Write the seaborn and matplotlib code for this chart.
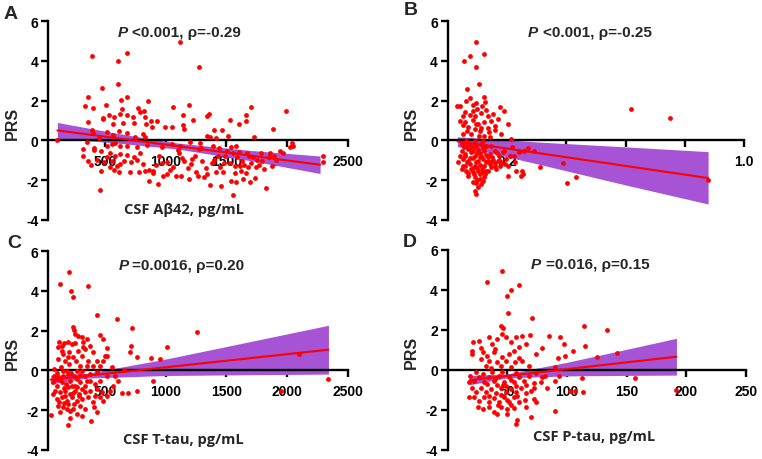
import matplotlib
matplotlib.use("Agg")
import matplotlib.pyplot as plt
import seaborn as sns

sns.set_style("white")
plt.rcParams['font.family'] = ['Liberation Sans', 'DejaVu Sans']
plt.rcParams['font.weight'] = 'bold'
plt.rcParams['axes.unicode_minus'] = False

# ---------------- Panel A: CSF Abeta42 ----------------
abeta_x = [1117, 388, 682, 608, 1271, 476, 608, 360, 677, 850,
           330, 506, 630, 1191, 1062, 1706, 1989, 402, 726, 774,
           820, 479, 531, 575, 638, 622, 682, 790, 831, 1142,
           1356, 1343, 1221, 1660, 1530, 1601, 1664, 358, 484, 567,
           644, 735, 836, 878, 889, 930, 990, 1051, 1139, 1153,
           1393, 1466, 1887, 1728, 809, 831, 1337, 1361, 1417, 1510,
           391, 396, 448, 512, 567, 611, 677, 743, 105, 316,
           382, 462, 468, 457, 429, 492, 512, 539, 580, 594,
           575, 611, 622, 657, 677, 710, 738, 759, 787, 809,
           825, 858, 864, 891, 919, 944, 966, 938, 974, 1007,
           1032, 1059, 1081, 1098, 1111, 1136, 1147, 1180, 1194, 1208,
           1219, 1241, 1252, 1276, 1293, 1301, 1318, 1329, 1343, 1361,
           1378, 1395, 1414, 1430, 1439, 1450, 1455, 1477, 1491, 1505,
           1527, 1541, 1552, 1568, 1574, 1579, 1582, 1590, 1601, 1612,
           1618, 1629, 1637, 1648, 1659, 1667, 1681, 1689, 1695, 1706,
           1719, 1733, 1744, 1755, 1769, 1783, 1796, 1813, 1827, 1557,
           1535, 1849, 1862, 1876, 1893, 1909, 1942, 1970, 2025, 2042,
           2052, 2300, 2300, 314, 358, 407, 347, 407, 512, 553,
           580, 622, 677, 759, 842, 966, 1048, 1117, 1199, 1282,
           1392, 622, 553, 539, 704, 782, 1007, 1125, 1268, 1469,
           897]
abeta_prs = [4.97, 4.27, 4.40, 4.02, 3.71, 2.62, 2.84, 2.17, 2.17, 1.97,
             1.75, 1.78, 2.03, 1.78, 1.70, 1.70, 1.46, 1.63, 1.16, 1.63,
             1.46, 1.13, 1.29, 1.19, 1.58, 1.33, 1.29, 1.41, 1.19, 1.28,
             1.33, 1.21, 1.03, 1.29, 1.01, 0.81, 0.96, 0.91, 1.08, 0.81,
             0.86, 0.86, 0.82, 0.96, 0.69, 0.97, 0.69, 0.66, 0.77, 0.57,
             0.52, 0.52, 0.55, 0.18, 0.30, 0.15, 0.24, 0.15, 0.10, 0.24,
             0.52, 0.35, 0.10, 0.40, 0.29, 0.47, 0.35, 0.18, 0.00, -0.44,
             -1.23, -0.52, -1.56, -2.49, -0.97, -1.08, -0.86, -0.64, -0.77, -1.28,
             -1.48, -1.58, -1.19, -1.06, -0.74, -1.11, -0.86, -0.99, -0.66, -1.18,
             -1.53, -1.50, -2.03, -1.56, -1.24, -0.81, -1.14, -2.20, -1.78, -1.11,
             -1.48, -1.36, -1.78, -0.47, -0.64, -0.91, -1.03, -1.38, -1.95, -1.21,
             -0.94, -0.77, -1.61, -0.45, -0.39, -1.03, -1.87, -1.39, -1.70, -2.24,
             -1.16, -0.99, -1.61, -0.77, -0.40, -1.33, -2.29, -1.16, -0.77, -0.52,
             -1.14, -0.32, -0.66, -1.28, -1.66, -2.08, -0.27, -0.86, -0.61, -1.28,
             -1.53, -1.03, -1.95, -1.24, -1.66, -0.66, -1.36, -0.77, -2.12, -1.16,
             -0.86, -1.90, -1.36, -0.99, -1.23, -0.64, -1.03, -1.45, -2.40, -2.74,
             -2.03, -0.86, -0.64, -1.28, -0.77, -0.99, -0.52, -0.66, -0.32, -0.15,
             -0.27, -0.77, -1.08, -0.81, -1.06, -0.47, -0.10, -0.39, -0.27, -0.18,
             -0.13, -0.27, -0.27, -0.35, -0.24, -0.35, -0.18, -0.27, -0.10, -0.15,
             -0.27, -0.69, -1.06, -1.36, -1.61, -1.61, -1.70, -1.78, -1.78, -1.58,
             -1.65]
abeta_fit_x = [105, 600, 1100, 1700, 2272]
abeta_fit_y = [0.50, 0.105, -0.294, -0.773, -1.23]
abeta_ci_lo = [0.10, -0.14, -0.44, -1.03, -1.67]
abeta_ci_hi = [0.90, 0.35, -0.14, -0.51, -0.79]

# ---------------- Panel B ----------------
b_x = [0.094, 0.054, 0.076, 0.124, 0.094, 0.106, 0.064, 0.076, 0.123, 0.032,
       0.043, 0.063, 0.086, 0.097, 0.116, 0.127, 0.176, 0.191, 0.154, 0.169,
       0.136, 0.113, 0.091, 0.074, 0.052, 0.041, 0.060, 0.086, 0.102, 0.124,
       0.147, 0.158, 0.202, 0.069, 0.091, 0.113, 0.136, 0.078, 0.124, 0.144,
       0.213, 0.104, 0.047, 0.063, 0.074, 0.086, 0.097, 0.113, 0.130, 0.147,
       0.047, 0.058, 0.080, 0.091, 0.108, 0.124, 0.141, 0.158, 0.174, 0.186,
       0.052, 0.069, 0.086, 0.102, 0.119, 0.136, 0.152, 0.169, 0.197, 0.058,
       0.074, 0.091, 0.108, 0.124, 0.141, 0.158, 0.202, 0.063, 0.086, 0.102,
       0.119, 0.136, 0.230, 0.247, 0.202, 0.091, 0.108, 0.124, 0.097, 0.113,
       0.102, 0.091, 0.094, 0.036, 0.041, 0.052, 0.080, 0.102, 0.113, 0.136,
       0.147, 0.163, 0.180, 0.080, 0.069, 0.047, 0.063, 0.091, 0.119, 0.217,
       0.222, 0.228, 0.239, 0.256, 0.272, 0.292, 0.250, 0.253, 0.311, 0.389,
       0.402, 0.431, 0.619, 0.748, 0.878, 0.178, 0.189, 0.211, 0.194, 0.055,
       0.070, 0.085, 0.100, 0.118, 0.130, 0.150, 0.165, 0.060, 0.075, 0.095,
       0.110, 0.128, 0.145, 0.160, 0.175, 0.065, 0.085, 0.100, 0.115, 0.130,
       0.070, 0.090, 0.110, 0.125, 0.100, 0.085, 0.120, 0.050, 0.065, 0.110,
       0.095, 0.140, 0.160, 0.180, 0.130, 0.060, 0.085, 0.100, 0.050]
b_prs = [4.94, 3.98, 4.24, 4.37, 3.68, 2.84, 2.59, 2.13, 2.17, 1.75,
         1.75, 1.97, 1.78, 1.88, 1.75, 1.95, 1.66, 1.50, 1.33, 1.08,
         1.24, 1.38, 1.24, 1.28, 1.21, 0.99, 0.91, 1.03, 0.82, 0.91,
         0.99, 0.74, 0.84, 0.66, 0.57, 0.61, 0.61, 0.32, 0.20, 0.15,
         0.07, 0.24, -0.18, -0.27, -0.18, -0.35, -0.27, -0.18, -0.30, -0.27,
         -0.52, -0.69, -0.61, -0.77, -0.64, -0.52, -0.69, -0.52, -0.77, -0.61,
         -0.94, -1.03, -0.91, -1.03, -0.94, -0.86, -0.99, -1.03, -0.94, -1.28,
         -1.19, -1.31, -1.23, -1.31, -1.19, -1.28, -1.28, -1.53, -1.61, -1.53,
         -1.61, -1.53, -1.53, -1.78, -1.78, -1.87, -1.95, -1.87, -2.15, -2.20,
         -2.37, -2.54, -2.71, -1.11, -0.77, -1.28, -0.44, -0.47, -0.77, -1.03,
         -1.36, -1.45, -1.19, -1.45, -1.78, -1.45, -0.02, -0.02, -0.02, -0.35,
         -0.77, -1.11, -0.61, -0.52, -0.40, -0.55, -1.53, -1.70, -1.33, -1.16,
         -2.17, -1.83, 1.58, 1.13, -2.00, -1.28, -0.52, -0.77, -1.19, -0.35,
         -0.45, -0.55, -0.62, -0.40, -0.75, -0.85, -0.62, -0.80, -0.90, -1.10,
         -0.85, -1.10, -1.10, -1.15, -1.05, -1.10, -1.40, -1.40, -1.45, -1.55,
         -1.65, -1.70, -1.70, -1.70, -2.00, -2.10, -2.05, 0.30, 0.45, 0.45,
         0.80, 0.40, 0.50, 0.30, 1.55, 1.45, 1.50, 1.60, 0.75]
b_fit_x = [0.033, 0.12, 0.30, 0.60, 0.878]
b_fit_y = [-0.05, -0.24, -0.63, -1.29, -1.90]
b_ci_lo = [-0.32, -0.55, -1.18, -2.25, -3.21]
b_ci_hi = [0.18, 0.10, -0.08, -0.33, -0.57]

# ---------------- Panel C: CSF T-tau ----------------
ttau_x = [201, 127, 215, 231, 360, 429, 594, 724, 1260, 1012,
          878, 952, 759, 704, 712, 657, 897, 759, 685, 641,
          2099, 1948, 2341, 50, 195, 209, 380, 429, 457, 484,
          512, 495, 517, 429, 484, 457, 512, 553, 237, 242,
          248, 160, 193, 113, 140, 226, 278, 305, 319, 352,
          374, 333, 272, 204, 154, 113, 168, 237, 305, 360,
          399, 399, 292, 204, 135, 80, 113, 154, 193, 242,
          292, 333, 374, 72, 105, 140, 176, 209, 250, 292,
          333, 374, 415, 85, 127, 168, 209, 250, 286, 333,
          374, 429, 470, 99, 140, 182, 223, 264, 305, 360,
          415, 457, 113, 154, 195, 237, 292, 333, 127, 264,
          305, 182, 72, 168, 223, 264, 346, 308, 396, 410,
          484, 512, 539, 567, 608, 580, 457, 429, 80, 182,
          264, 90, 125, 160, 195, 230, 270, 120, 160, 205,
          245, 280, 100, 150, 220, 310, 350, 260, 190, 140,
          320, 250, 120]
ttau_prs = [4.94, 4.35, 3.98, 3.68, 4.24, 2.81, 2.59, 2.13, 1.95, 1.16,
            0.62, 0.57, 0.69, 0.91, 1.24, 0.02, -0.52, -1.03, -1.16, -1.16,
            0.82, -1.03, -0.44, -2.24, -2.76, -2.40, -2.54, -2.10, 1.78, 1.58,
            1.11, 0.74, 0.74, 0.47, 0.47, 0.24, -0.27, 0.15, 2.17, 2.05,
            1.83, 1.38, 1.41, 1.16, 1.24, 1.33, 1.75, 1.66, 1.41, 1.58,
            1.24, 1.08, 0.99, 0.91, 0.82, 0.57, 0.49, 0.66, 0.74, 0.49,
            0.91, 0.24, 0.24, 0.32, 0.15, -0.27, -0.35, -0.27, -0.18, -0.27,
            -0.24, -0.27, -0.18, -0.61, -0.77, -0.61, -0.69, -0.52, -0.77, -0.61,
            -0.77, -0.52, -0.69, -1.03, -1.11, -1.03, -1.19, -1.03, -1.19, -1.11,
            -1.03, -0.94, -1.11, -1.45, -1.36, -1.53, -1.36, -1.53, -1.45, -1.36,
            -1.28, -1.36, -1.78, -1.87, -1.70, -1.95, -1.78, -1.95, -2.12, -2.20,
            -2.29, -1.95, -1.19, -1.28, -0.77, -0.44, -0.52, -0.94, -1.61, -1.87,
            -1.53, -1.28, -1.03, -0.77, -0.52, -0.27, -0.52, -0.10, 0.07, -0.02,
            -0.02, -0.45, -0.50, -0.90, -0.85, -1.15, -0.85, -1.60, -1.65, -2.05,
            -1.70, -1.30, -0.15, -0.05, -0.15, -0.05, 0.20, 0.45, 0.65, 1.00,
            1.20, 1.40, 1.45]
ttau_fit_x = [50, 350, 1000, 1700, 2341]
ttau_fit_y = [-0.47, -0.272, 0.156, 0.617, 1.04]
ttau_ci_lo = [-0.69, -0.39, -0.26, -0.22, -0.19]
ttau_ci_hi = [-0.25, -0.15, 0.57, 1.455, 2.27]

# ---------------- Panel D: CSF P-tau ----------------
ptau_x = [45.3, 32.8, 52.8, 59.7, 49.4, 50.8, 70.8, 45.0, 46.4, 113.9,
          133.9, 94.4, 97.2, 84.7, 79.2, 73.6, 92.5, 98.6, 104.7, 115.3,
          125.0, 142.2, 90.3, 93.1, 90.3, 79.2, 83.3, 72.2, 90.3, 112.5,
          102.8, 106.9, 113.6, 156.9, 191.7, 70.0, 57.8, 56.9, 49.4, 41.7,
          20.8, 20.3, 20.3, 26.4, 34.2, 37.5, 41.7, 45.8, 49.2, 52.8,
          56.9, 62.5, 65.3, 68.6, 59.7, 55.6, 51.4, 45.8, 38.9, 33.3,
          29.2, 27.8, 34.7, 41.7, 48.6, 56.4, 62.5, 68.1, 44.4, 52.8,
          31.9, 18.6, 22.2, 26.4, 30.6, 34.7, 38.9, 43.1, 47.2, 51.4,
          55.6, 59.7, 63.9, 68.1, 20.3, 23.6, 27.8, 31.9, 36.1, 40.3,
          44.4, 48.6, 52.8, 56.9, 61.1, 65.3, 69.4, 22.2, 26.4, 30.6,
          34.7, 38.9, 43.1, 47.2, 51.4, 55.6, 59.7, 64.7, 72.2, 25.0,
          29.2, 34.7, 38.9, 44.4, 50.0, 55.6, 65.3, 73.6, 17.5, 17.5,
          23.6, 37.5, 45.8, 56.9, 73.6, 77.8, 81.9, 72.2, 33.3, 41.7,
          48.9, 57.5, 40.0, 46.0, 53.0, 35.0, 45.0, 58.0, 42.0, 50.0,
          36.0, 60.0, 28.0, 40.0, 66.0, 30.0, 53.0]
ptau_prs = [4.95, 4.37, 4.00, 4.25, 3.70, 2.83, 2.58, 2.17, 2.07, 2.17,
            1.98, 1.62, 1.28, 1.67, 1.08, 0.78, 0.58, 0.67, 0.92, 1.20,
            0.65, 0.82, 0.12, -0.30, -0.55, -0.38, -0.92, -0.93, -2.05, -0.42,
            -1.05, -1.05, -1.13, -0.42, -1.02, -2.38, -2.50, -2.72, -2.22, -2.22,
            1.37, 0.95, 0.78, 1.45, 1.62, 1.28, 1.53, 1.78, 1.62, 1.37,
            1.62, 1.67, 1.28, 1.73, 1.12, 0.95, 0.78, 0.62, 0.87, 0.70,
            0.90, 0.53, 0.45, 0.37, 0.45, 0.37, 0.45, 0.20, 0.17, 0.12,
            0.17, -0.30, -0.55, -0.38, -0.63, -0.38, -0.55, -0.30, -0.60, -0.38,
            -0.63, -0.38, -0.55, -0.30, -0.93, -1.13, -0.93, -1.13, -0.97, -1.17,
            -0.93, -1.13, -0.97, -1.13, -0.93, -1.17, -1.05, -1.38, -1.55, -1.38,
            -1.63, -1.43, -1.63, -1.38, -1.60, -1.38, -1.63, -1.50, -1.47, -1.88,
            -1.97, -1.88, -2.10, -1.88, -1.97, -1.93, -1.88, -1.63, -1.38, -0.63,
            -0.13, -0.13, -0.10, -0.17, -0.17, -0.63, -0.30, -0.67, -0.72, -0.77,
            -0.80, -0.83, -0.45, -0.75, -0.50, -1.30, -1.25, -1.30, -1.75, -1.50,
            0.10, 0.60, 1.10, 1.05, -0.75, -0.20, -1.75]
ptau_fit_x = [18.6, 50, 100, 150, 191.7]
ptau_fit_y = [-0.52, -0.308, 0.03, 0.368, 0.65]
ptau_ci_lo = [-0.75, -0.41, -0.31, -0.285, -0.27]
ptau_ci_hi = [-0.29, -0.21, 0.37, 1.02, 1.57]

y_ticks = [-4, -2, 0, 2, 4, 6]
y_ticklabels = ["-4", "-2", "0", "2", "4", "6"]

RED = "#FF0000"
PURPLE = "#A653D6"
W, H = 762, 460


def rect(l, r, t, b):
    return [l / W, 1 - b / H, (r - l) / W, (b - t) / H]


fig = plt.figure(figsize=(W / 100, H / 100), dpi=100)
axA = fig.add_axes(rect(48.3, 347.7, 22.3, 220.7))
axB = fig.add_axes(rect(447.7, 744.3, 22.3, 220.7))
axC = fig.add_axes(rect(48.3, 347.7, 252.3, 450.7))
axD = fig.add_axes(rect(447.7, 746.0, 250.7, 450.7))


def panel(ax, x, y, fx, fy, lo, hi, xlim, xticks, xticklabels,
          p_x, rest_x, txt_y, rest_text, xlabel, xlabel_pos):
    ax.fill_between(fx, lo, hi, color=PURPLE, lw=0, zorder=1)
    sns.lineplot(x=fx, y=fy, ax=ax, color=RED, lw=1.5, zorder=3)
    sns.scatterplot(x=x, y=y, ax=ax, color=RED, s=12, linewidth=0,
                    zorder=4, legend=False)
    ax.set_xlim(*xlim)
    ax.set_ylim(-4, 6)
    ax.set_yticks(y_ticks)
    ax.set_yticklabels(y_ticklabels)
    ax.set_xticks(xticks)
    ax.set_xticklabels(xticklabels)
    for s in ("top", "right"):
        ax.spines[s].set_visible(False)
    ax.spines["bottom"].set_position(("data", 0))
    for s in ("left", "bottom"):
        ax.spines[s].set_linewidth(1.7)
        ax.spines[s].set_color("black")
        ax.spines[s].set_zorder(2.5)
    ax.tick_params(axis="y", direction="out", length=5, width=1.7, pad=2,
                   labelsize=10, left=True, colors="black")
    ax.tick_params(axis="x", direction="out", length=5, width=1.7, pad=5,
                   labelsize=10, bottom=True, colors="black")
    for lab in ax.get_xticklabels() + ax.get_yticklabels():
        lab.set_fontweight("bold")
    ax.set_xlabel("")
    ax.set_ylabel("PRS", fontsize=11.5, fontweight="bold")
    ax.yaxis.set_label_coords(-0.096, 0.49)
    ax.text(p_x, txt_y, "P", transform=ax.transAxes, fontsize=11,
            fontweight="bold", fontstyle="italic", ha="left", va="center")
    ax.text(rest_x, txt_y, rest_text, transform=ax.transAxes, fontsize=11,
            fontweight="bold", ha="left", va="center")
    if xlabel:
        ax.text(xlabel_pos[0], xlabel_pos[1], xlabel, transform=ax.transAxes,
                fontsize=10.5, fontweight="bold", ha="center", va="center",
                family=["Open Sans", "DejaVu Sans"])
    ax.patch.set_alpha(0)


panel(axA, abeta_x, abeta_prs, abeta_fit_x, abeta_fit_y, abeta_ci_lo, abeta_ci_hi,
      (30, 2500), [500, 1000, 1500, 2000, 2500], ["500", "1000", "1500", "2000", "2500"],
      0.233, 0.281, 0.946, "<0.001, ρ=-0.29", "CSF Aβ42, pg/mL", (0.453, 0.054))
panel(axB, b_x, b_prs, b_fit_x, b_fit_y, b_ci_lo, b_ci_hi,
      (0, 1.0), [0.2, 0.4, 0.6, 0.8, 1.0], ["0.2", "0.4", "0.6", "0.8", "1.0"],
      0.270, 0.322, 0.946, "<0.001, ρ=-0.25", None, None)
panel(axC, ttau_x, ttau_prs, ttau_fit_x, ttau_fit_y, ttau_ci_lo, ttau_ci_hi,
      (30, 2500), [500, 1000, 1500, 2000, 2500], ["500", "1000", "1500", "2000", "2500"],
      0.234, 0.281, 0.931, "=0.0016, ρ=0.20", "CSF T-tau, pg/mL", (0.45, 0.054))
panel(axD, ptau_x, ptau_prs, ptau_fit_x, ptau_fit_y, ptau_ci_lo, ptau_ci_hi,
      (0, 250), [50, 100, 150, 200, 250], ["50", "100", "150", "200", "250"],
      0.277, 0.328, 0.93, "=0.016, ρ=0.15", "CSF P-tau, pg/mL", (0.49, 0.07))

for lbl, xp, yp in (("A", 4, 19), ("B", 404, 15), ("C", 7, 248), ("D", 403, 247)):
    fig.text(xp / W, 1 - yp / H, lbl, fontsize=14, fontweight="bold",
             ha="left", va="baseline")

fig.savefig("out.png", dpi=100)
